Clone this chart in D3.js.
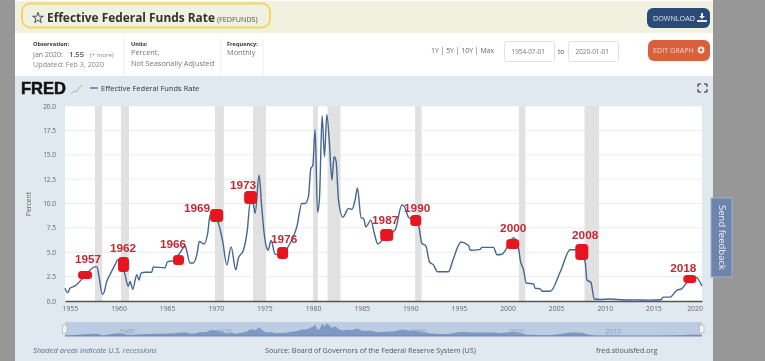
<!DOCTYPE html>
<html>
<head>
<meta charset="utf-8">
<script src="https://cdn.jsdelivr.net/npm/d3@7"></script>
<style>
    html, body { margin: 0; padding: 0; background: #979797; overflow: hidden; }
    svg { display: block; font-family: "Open Sans", sans-serif; filter: blur(0.45px); }
</style>
</head>
<body>
<div id="chart"></div>
<script>
// values
const rateYears = [1954.5, 1954.78, 1955.01, 1955.53, 1956.56, 1957.59, 1957.79, 1958.0, 1958.34, 1958.52, 1958.79, 1959.13, 1959.64, 1959.92, 1960.26, 1960.67, 1961.01, 1961.19, 1961.47, 1961.88, 1962.11, 1962.32, 1962.73, 1963.42, 1963.58, 1964.79, 1965.02, 1965.61, 1966.5, 1966.85, 1967.0, 1967.36, 1967.7, 1968.05, 1968.32, 1968.8, 1969.18, 1969.42, 1969.83, 1970.27, 1970.72, 1971.14, 1971.58, 1972.06, 1972.33, 1972.84, 1973.25, 1973.53, 1973.84, 1974.05, 1974.46, 1974.7, 1974.97, 1975.25, 1975.38, 1975.69, 1976.1, 1976.8, 1977.4, 1978.34, 1978.85, 1979.19, 1979.53, 1979.78, 1979.98, 1980.22, 1980.46, 1980.66, 1980.94, 1981.18, 1981.42, 1981.69, 1981.94, 1982.17, 1982.38, 1982.62, 1983.07, 1983.3, 1983.65, 1984.0, 1984.34, 1984.57, 1984.95, 1985.19, 1985.44, 1985.95, 1986.29, 1986.67, 1987.4, 1988.45, 1989.14, 1989.38, 1989.82, 1990.8, 1991.2, 1991.6, 1991.98, 1992.39, 1992.8, 1993.93, 1994.39, 1994.96, 1995.21, 1995.99, 1996.17, 1997.2, 1997.37, 1998.56, 1998.91, 1999.43, 1999.84, 2000.62, 2001.14, 2001.31, 2001.65, 2001.93, 2002.68, 2002.85, 2003.37, 2003.54, 2004.4, 2005.43, 2006.45, 2007.0, 2007.6, 2008.0, 2008.17, 2008.58, 2008.92, 2009.5, 2010.5, 2012.0, 2013.0, 2014.5, 2015.8, 2016.0, 2016.7, 2017.4, 2017.9, 2018.45, 2019.5, 2019.75, 2020.0];
const rateValues = [1.3, 0.85, 1.3, 1.55, 2.6, 3.5, 3.5, 2.5, 0.7, 0.9, 2.0, 2.7, 3.7, 4.2, 4.0, 2.7, 1.5, 2.0, 1.2, 2.7, 2.15, 2.85, 2.95, 2.95, 3.5, 3.4, 4.0, 4.15, 5.2, 5.7, 5.2, 3.9, 3.9, 4.7, 6.1, 5.85, 7.0, 8.8, 9.0, 8.0, 6.1, 3.7, 5.55, 3.2, 4.4, 5.2, 7.3, 10.0, 10.0, 9.0, 12.9, 10.0, 7.0, 5.4, 5.2, 6.2, 4.8, 4.7, 5.5, 7.6, 10.0, 10.0, 10.7, 13.6, 13.9, 17.6, 9.1, 10.4, 19.0, 14.8, 19.1, 16.2, 12.4, 14.8, 14.3, 10.4, 8.6, 8.9, 9.5, 9.4, 10.4, 11.6, 8.5, 8.5, 7.6, 8.3, 7.0, 5.85, 6.6, 7.3, 9.85, 9.7, 8.6, 8.0, 5.9, 5.65, 4.0, 3.7, 3.0, 3.0, 4.2, 5.7, 6.05, 5.7, 5.2, 5.3, 5.5, 5.5, 4.75, 4.8, 5.3, 6.5, 5.4, 4.2, 3.2, 1.85, 1.75, 1.3, 1.25, 1.0, 1.0, 3.0, 5.25, 5.25, 5.0, 3.9, 2.15, 1.9, 0.2, 0.15, 0.2, 0.1, 0.12, 0.09, 0.13, 0.4, 0.4, 1.1, 1.25, 1.9, 2.4, 2.0, 1.55];

const recessionStart = [1957.58, 1960.25, 1969.92, 1973.83, 1980.0, 1981.5, 1990.5, 2001.17, 2007.92];
const recessionEnd = [1958.33, 1961.08, 1970.83, 1975.17, 1980.5, 1982.83, 1991.17, 2001.83, 2009.42];

const yTicks = [0, 2.5, 5, 7.5, 10, 12.5, 15, 17.5, 20];
const xTicks = [1955, 1960, 1965, 1970, 1975, 1980, 1985, 1990, 1995, 2000, 2005, 2010, 2015, 2020];
const navTicks = [1960, 1970, 1980, 1990, 2000, 2010];

// red annotations pasted on the chart, in axis units
const noteLabels = ['1957', '1962', '1966', '1969', '1973', '1976', '1987', '1990', '2000', '2008', '2018'];
const noteFrom = [1955.84, 1959.95, 1965.61, 1969.42, 1972.92, 1976.31, 1986.91, 1990.0, 1999.87, 2006.97, 2018.08];
const noteTo = [1957.28, 1961.08, 1966.74, 1970.76, 1974.25, 1977.44, 1988.25, 1991.13, 2001.21, 2008.31, 2019.42];
const noteLow = [2.26, 2.97, 3.69, 8.10, 9.95, 4.31, 6.15, 7.69, 5.33, 4.21, 1.85];
const noteHigh = [3.08, 4.51, 4.72, 9.44, 11.28, 5.54, 7.38, 8.82, 6.36, 5.85, 2.67];
const noteTextYear = [1956.87, 1960.47, 1965.61, 1968.08, 1972.81, 1977.03, 1987.42, 1990.71, 2000.59, 2007.99, 2018.08];
const noteTextRate = [3.9, 5.03, 5.44, 9.13, 11.49, 5.95, 7.9, 9.13, 7.08, 6.36, 2.97];

const svg = d3.select('#chart').append('svg')
    .attr('width', 765)
    .attr('height', 361);

function addText(x, y, str, size, color, opts) {
    opts = opts || {};
    return svg.append('text')
        .attr('x', x)
        .attr('y', y)
        .attr('font-size', size)
        .attr('fill', color)
        .attr('font-weight', opts.weight || 400)
        .attr('font-style', opts.style || 'normal')
        .attr('text-anchor', opts.anchor || 'start')
        .text(str);
}

// page panels
svg.append('rect').attr('x', 0).attr('y', 0).attr('width', 765).attr('height', 361).attr('fill', '#979797');
svg.append('rect').attr('x', 15).attr('y', 0).attr('width', 698).attr('height', 361).attr('fill', '#fff');
svg.append('rect').attr('x', 15).attr('y', 1).attr('width', 698).attr('height', 32).attr('fill', '#f0f1df');
svg.append('rect').attr('x', 15).attr('y', 76).attr('width', 698).attr('height', 285).attr('fill', '#e0e8f0');

// header
svg.append('rect')
    .attr('x', 22).attr('y', 3.5).attr('width', 248).attr('height', 24).attr('rx', 8)
    .attr('fill', 'none').attr('stroke', '#f4d560').attr('stroke-width', 2);
svg.append('path')
    .attr('d', d3.symbol(d3.symbolStar, 36)())
    .attr('transform', 'translate(38,18)')
    .attr('fill', 'none').attr('stroke', '#3c4f6b').attr('stroke-width', 1);
addText(47, 22, 'Effective Federal Funds Rate', 11.9, '#333', { weight: 700 });
addText(217, 22, '(FEDFUNDS)', 7.2, '#555');

svg.append('rect').attr('x', 647).attr('y', 8).attr('width', 63).attr('height', 20).attr('rx', 6).attr('fill', '#2b4a78');
addText(653, 21, 'DOWNLOAD', 7.2, '#dfe6f0');
svg.append('path').attr('d', 'M701 13h2v3h2l-3 3-3-3h2zM697 20h10v2h-10z').attr('fill', '#e8edf4');

svg.append('rect').attr('x', 648).attr('y', 40).attr('width', 62).attr('height', 21).attr('rx', 6).attr('fill', '#d8603c');
addText(653, 53, 'EDIT GRAPH', 7.2, '#f6d3c6');
svg.append('circle').attr('cx', 701).attr('cy', 50).attr('r', 2.4).attr('fill', 'none').attr('stroke', '#fbe6de').attr('stroke-width', 2);

// meta row
addText(33, 46, 'Observation:', 5.6, '#333', { weight: 700 });
addText(33, 57, 'Jan 2020:', 7, '#777');
addText(69, 57, '1.55', 7.5, '#555', { weight: 600 });
addText(90, 57, '(+ more)', 6, '#888');
addText(33, 67, 'Updated: Feb 3, 2020', 7.2, '#888');
addText(131, 46, 'Units:', 5.6, '#333', { weight: 700 });
addText(131, 55, 'Percent,', 7.4, '#777');
addText(131, 66, 'Not Seasonally Adjusted', 7.4, '#777');
addText(227, 46, 'Frequency:', 5.6, '#333', { weight: 700 });
addText(227, 55, 'Monthly', 7.4, '#777');
[124, 221, 263].forEach(function(d) {
    svg.append('line').attr('x1', d).attr('x2', d).attr('y1', 38).attr('y2', 76).attr('stroke', '#eee');
});

addText(431, 53, '1Y | 5Y | 10Y | Max', 6.9, '#666');
addText(558, 54, 'to', 6.5, '#555');
[['1954-07-01', 504.5], ['2020-01-01', 568.5]].forEach(function(d) {
    svg.append('rect').attr('x', d[1]).attr('y', 41.5).attr('width', 50).attr('height', 20).attr('rx', 2)
        .attr('fill', '#fff').attr('stroke', '#e2e2e2');
    addText(d[1] + 7, 54, d[0], 6.4, '#777');
});

// chart title row
addText(21, 94, 'FRED', 16.5, '#111', { weight: 800 }).attr('font-family', 'Liberation Sans').attr('stroke', '#111').attr('stroke-width', 0.5);
svg.append('path').attr('d', 'M71 94l3-3 2 1 3-4 3-3').attr('fill', 'none').attr('stroke', '#a9b8a4').attr('stroke-width', 1);
svg.append('line').attr('x1', 90).attr('x2', 98).attr('y1', 88).attr('y2', 88).attr('stroke', '#4a6a93').attr('stroke-width', 1.3);
addText(101, 91, 'Effective Federal Funds Rate', 7.5, '#333');
svg.append('path').attr('d', 'M698 87v-3h3M704 84h3v3M707 89v3h-3M701 92h-3v-3').attr('fill', 'none').attr('stroke', '#222').attr('stroke-width', 1);

// scales
const x = d3.scaleLinear().domain([1954.5, 2020]).range([65, 702]);
const y = d3.scaleLinear().domain([0, 20]).range([301, 106]);
const navY = d3.scaleLinear().domain([0, 20]).range([336, 323]);

// plot
svg.append('rect').attr('x', x(1954.5)).attr('y', y(20)).attr('width', x(2020) - x(1954.5)).attr('height', y(0) - y(20)).attr('fill', '#fff');

svg.append('g')
    .selectAll('line')
    .data(yTicks.slice(1))
    .enter()
    .append('line')
    .attr('x1', x(1954.5)).attr('x2', x(2020))
    .attr('y1', function(d) { return y(d); })
    .attr('y2', function(d) { return y(d); })
    .attr('stroke', '#ececec');

svg.append('g')
    .selectAll('rect')
    .data(recessionStart)
    .enter()
    .append('rect')
    .attr('x', function(d) { return x(d); })
    .attr('y', y(20))
    .attr('width', function(d, i) { return x(recessionEnd[i]) - x(d); })
    .attr('height', y(0) - y(20))
    .attr('fill', '#e1e1e1');

const yAxis = d3.axisLeft(y).tickValues(yTicks).tickSize(0).tickPadding(9).tickFormat(d3.format('.1f'));
const gy = svg.append('g').attr('transform', 'translate(65,0)').call(yAxis);
gy.select('.domain').remove();
gy.selectAll('text').attr('font-size', 6.5).attr('fill', '#666').attr('font-family', 'Open Sans');

const xAxis = d3.axisBottom(x).tickValues(xTicks).tickSize(0).tickPadding(5).tickFormat(d3.format('d'));
const gx = svg.append('g').attr('transform', 'translate(0,301)').call(xAxis);
gx.select('.domain').attr('stroke', '#555').attr('stroke-width', 1.5);
gx.selectAll('text').attr('font-size', 6.8).attr('fill', '#666').attr('font-family', 'Open Sans')
    .attr('dx', function(d) { return d === 2020 ? -7.5 : 0; });

addText(0, 0, 'Percent', 6.8, '#666', { anchor: 'middle' }).attr('transform', 'translate(31,204) rotate(-90)');

const rateLine = d3.line()
    .curve(d3.curveMonotoneX)
    .x(function(d) { return x(d); })
    .y(function(d, i) { return y(rateValues[i]); });

svg.append('path')
    .attr('d', rateLine(rateYears))
    .attr('fill', 'none')
    .attr('stroke', '#456690')
    .attr('stroke-width', 1.4);

// pasted annotations
svg.append('g')
    .selectAll('rect')
    .data(noteLabels)
    .enter()
    .append('rect')
    .attr('x', function(d, i) { return x(noteFrom[i]); })
    .attr('y', function(d, i) { return y(noteHigh[i]); })
    .attr('width', function(d, i) { return x(noteTo[i]) - x(noteFrom[i]); })
    .attr('height', function(d, i) { return y(noteLow[i]) - y(noteHigh[i]); })
    .attr('rx', 3.5)
    .attr('fill', '#e8141f');

svg.append('g')
    .selectAll('text')
    .data(noteLabels)
    .enter()
    .append('text')
    .attr('x', function(d, i) { return x(noteTextYear[i]); })
    .attr('y', function(d, i) { return y(noteTextRate[i]); })
    .attr('text-anchor', 'middle')
    .attr('font-size', 11.8)
    .attr('font-weight', 700)
    .attr('font-family', 'Liberation Sans')
    .attr('fill', '#c02a35')
    .text(function(d) { return d; });

// navigator
svg.append('rect').attr('x', x(1954.5)).attr('y', 322).attr('width', x(2020) - x(1954.5)).attr('height', 14).attr('fill', '#bccce3');

const navArea = d3.area()
    .x(function(d) { return x(d); })
    .y0(336)
    .y1(function(d, i) { return navY(rateValues[i]); });

svg.append('path').attr('d', navArea(rateYears)).attr('fill', '#7c99c4');

svg.append('g')
    .selectAll('text')
    .data(navTicks)
    .enter()
    .append('text')
    .attr('x', function(d) { return x(d) + 8.5; })
    .attr('y', 334)
    .attr('text-anchor', 'middle')
    .attr('font-size', 6.8)
    .attr('fill', '#8fa3c4')
    .text(function(d) { return d; });

svg.append('line').attr('x1', x(1954.5)).attr('x2', x(2020)).attr('y1', 336).attr('y2', 336).attr('stroke', '#6e87ad');
[x(1954.5), x(2020)].forEach(function(d) {
    svg.append('rect').attr('x', d - 2.5).attr('y', 325).attr('width', 4.5).attr('height', 8).attr('fill', '#f4f4f4').attr('stroke', '#aaa').attr('stroke-width', 0.6);
});

// footer
addText(33, 353, 'Shaded areas indicate U.S. recessions', 7.5, '#5b6f8c', { style: 'italic' });
addText(265, 353, 'Source: Board of Governors of the Federal Reserve System (US)', 7.2, '#555');
addText(596, 353, 'fred.stlouisfed.org', 7.2, '#555');

// feedback tab
svg.append('rect').attr('x', 711).attr('y', 198).attr('width', 21).attr('height', 79).attr('fill', '#6d84ad').attr('stroke', '#9fb0cc');
addText(0, 0, 'Send feedback', 9.5, '#eef2f8', { anchor: 'middle' }).attr('transform', 'translate(718.5,237.5) rotate(90)');
</script>
</body>
</html>
